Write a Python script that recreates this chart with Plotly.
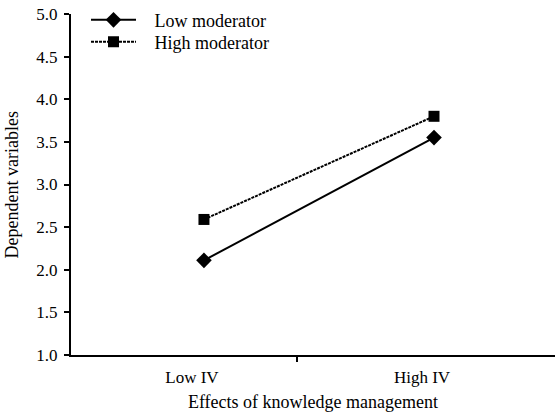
import plotly.graph_objects as go

categories = ["Low IV", "High IV"]
low_moderator = [2.11, 3.55]
high_moderator = [2.59, 3.80]
y_ticks = [1.0, 1.5, 2.0, 2.5, 3.0, 3.5, 4.0, 4.5, 5.0]

font = "Liberation Serif"
pad = "\u00a0\u00a0\u00a0"

fig = go.Figure()
fig.add_trace(go.Scatter(
    x=categories, y=low_moderator, name=pad + "Low moderator", mode="lines+markers",
    line=dict(color="black", width=2),
    marker=dict(symbol="diamond", size=12, color="black"),
    legend="legend",
))
fig.add_trace(go.Scatter(
    x=categories, y=high_moderator, name=pad + "High moderator", mode="lines+markers",
    line=dict(color="black", width=2, dash="3px,1px"),
    marker=dict(symbol="square", size=11, color="black"),
    legend="legend2",
))
# invisible trace to host the boundary tick on a numeric overlay axis
fig.add_trace(go.Scatter(x=[], y=[], xaxis="x2", showlegend=False))

xr = [-0.578, 1.526]
leg_common = dict(xanchor="left", yanchor="middle", bgcolor="rgba(0,0,0,0)",
                  font=dict(size=18), itemwidth=45)
fig.update_layout(
    width=555, height=414,
    margin=dict(l=71, r=0, t=14, b=59, autoexpand=False),
    paper_bgcolor="white", plot_bgcolor="white",
    font=dict(family=font, size=17, color="black"),
    showlegend=True,
    legend=dict(x=0.031, y=0.982, **leg_common),
    legend2=dict(x=0.031, y=0.918, **leg_common),
    xaxis=dict(
        type="category", range=xr, showline=True, linecolor="black", linewidth=2,
        ticks="", showgrid=False, zeroline=False, ticklabelshift=-12,
        ticklabelstandoff=6, automargin=False,
        title=dict(text="Effects of knowledge management", standoff=9,
                   font=dict(size=18)),
        tickfont=dict(size=17),
    ),
    xaxis2=dict(
        overlaying="x", side="bottom", range=xr, tickvals=[0.404],
        showticklabels=False, ticks="outside", ticklen=6, tickwidth=2,
        tickcolor="black", showgrid=False, zeroline=False, showline=False,
        automargin=False,
    ),
    yaxis=dict(
        range=[1.0, 5.0], tickvals=y_ticks, tickformat=".1f",
        showline=True, linecolor="black", linewidth=2,
        ticks="outside", ticklen=5, tickwidth=2, tickcolor="black",
        showgrid=False, zeroline=False, automargin=False,
        ticklabelstandoff=3, ticklabeloverflow="allow",
        tickfont=dict(size=17),
    ),
    annotations=[dict(
        text="Dependent variables", textangle=-90, showarrow=False,
        xref="paper", yref="paper", x=-0.122, y=0.5,
        xanchor="center", yanchor="middle", font=dict(size=18),
    )],
)

fig.write_html("out.html", config={"displayModeBar": False},
               post_script="document.body.style.margin='0';")
